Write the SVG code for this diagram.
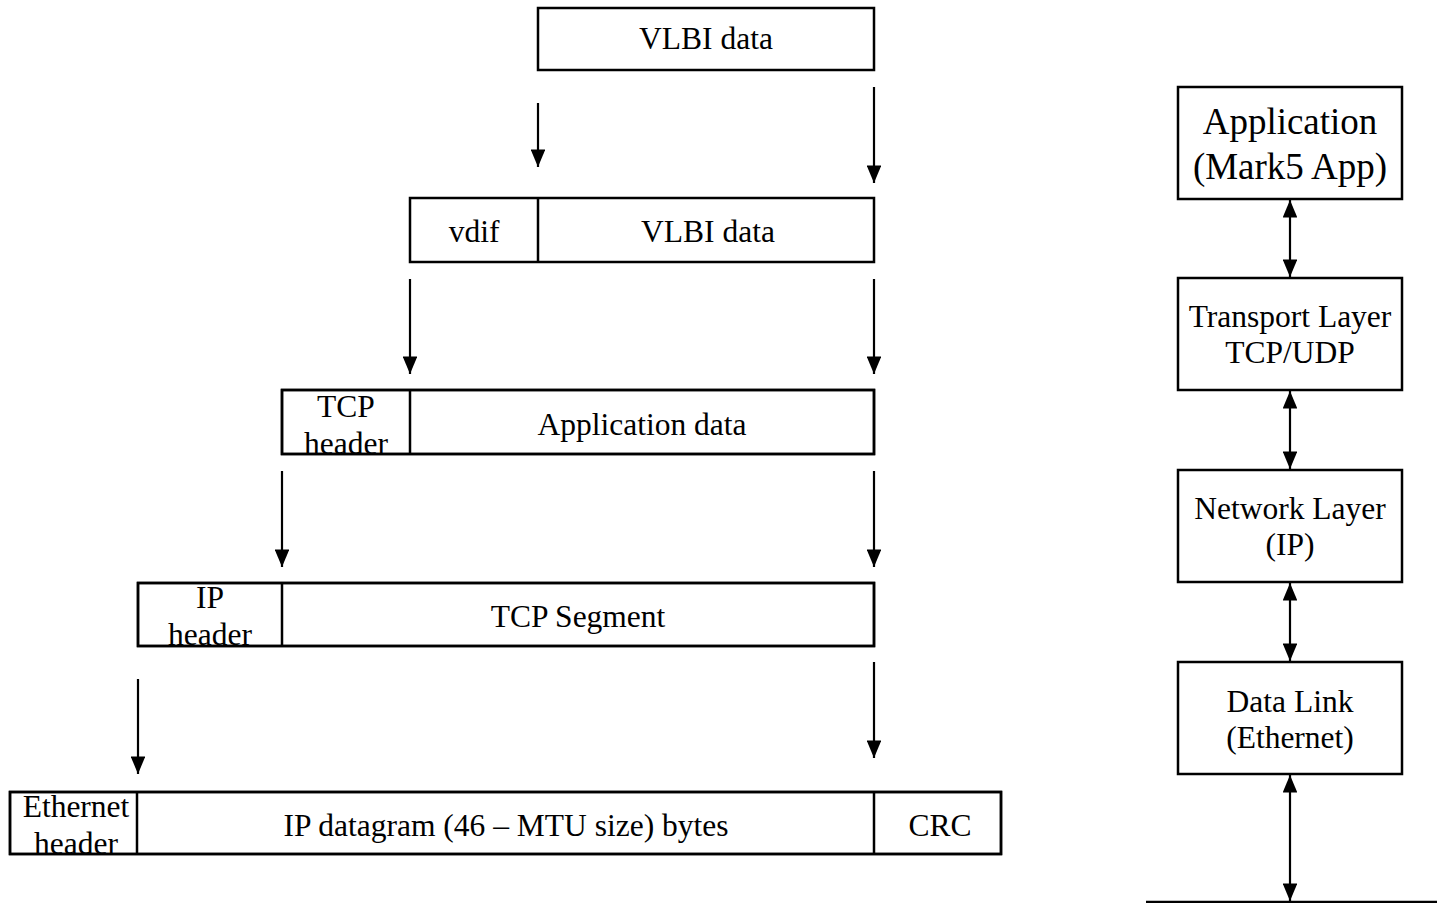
<svg xmlns="http://www.w3.org/2000/svg" width="1437" height="903" viewBox="0 0 1437 903">
  <style>
    .box { fill: #fff; stroke: #000; stroke-width: 2.5; }
    .edge { fill: none; stroke: #000; stroke-width: 2.5; }
    .div { stroke: #000; stroke-width: 2.5; }
    .t { font-family: "Liberation Serif", "Times New Roman", serif; font-size: 31.5px; fill: #000; text-anchor: middle; }
    .big { font-size: 37px; }
    .arr { stroke: #000; stroke-width: 2.2; fill: none; marker-end: url(#head); }
    .bi { stroke: #000; stroke-width: 2.2; fill: none; marker-start: url(#headS); marker-end: url(#head); }
  </style>
  <defs>
    <marker id="head" viewBox="0 0 12 10" refX="12" refY="5" markerWidth="8" markerHeight="6.8" markerUnits="strokeWidth" orient="auto">
      <path d="M0,0 L12,5 L0,10 z" fill="#000"/>
    </marker>
    <marker id="headS" viewBox="0 0 12 10" refX="0" refY="5" markerWidth="8" markerHeight="6.8" markerUnits="strokeWidth" orient="auto">
      <path d="M12,0 L0,5 L12,10 z" fill="#000"/>
    </marker>
    <clipPath id="clipTcp"><rect x="282" y="390" width="128" height="64"/></clipPath>
    <clipPath id="clipIp"><rect x="138" y="583" width="144" height="63"/></clipPath>
    <clipPath id="clipEth"><rect x="10" y="792" width="127" height="62"/></clipPath>
  </defs>

  <!-- encapsulation stack -->
  <g id="vlbi">
    <rect class="box" x="538" y="8" width="336" height="62"/>
    <text class="t" x="706" y="49">VLBI data</text>
  </g>

  <g id="vdif-frame">
    <rect class="box" x="410" y="198" width="464" height="64"/>
    <line class="div" x1="538" y1="198" x2="538" y2="262"/>
    <text class="t" x="474" y="242">vdif</text>
    <text class="t" x="708" y="242">VLBI data</text>
  </g>

  <g id="tcp-segment">
    <rect class="box" x="282" y="390" width="592" height="64"/>
    <g clip-path="url(#clipTcp)">
      <text class="t" x="346" y="417">TCP</text>
      <text class="t" x="346" y="454">header</text>
    </g>
    <rect class="edge" x="282" y="390" width="592" height="64"/>
    <line class="div" x1="410" y1="390" x2="410" y2="454"/>
    <text class="t" x="642" y="435">Application data</text>
  </g>

  <g id="ip-datagram">
    <rect class="box" x="138" y="583" width="736" height="63"/>
    <g clip-path="url(#clipIp)">
      <text class="t" x="210" y="608">IP</text>
      <text class="t" x="210" y="645">header</text>
    </g>
    <rect class="edge" x="138" y="583" width="736" height="63"/>
    <line class="div" x1="282" y1="583" x2="282" y2="646"/>
    <text class="t" x="578" y="627">TCP Segment</text>
  </g>

  <g id="ethernet-frame">
    <rect class="box" x="10" y="792" width="991" height="62"/>
    <g clip-path="url(#clipEth)">
      <text class="t" x="76" y="817">Ethernet</text>
      <text class="t" x="76" y="854">header</text>
    </g>
    <rect class="edge" x="10" y="792" width="991" height="62"/>
    <line class="div" x1="137" y1="792" x2="137" y2="854"/>
    <line class="div" x1="874" y1="792" x2="874" y2="854"/>
    <text class="t" x="506" y="836">IP datagram (46 – MTU size) bytes</text>
    <text class="t" x="940" y="836">CRC</text>
  </g>

  <!-- protocol layers -->
  <g id="application">
    <rect class="box" x="1178" y="87" width="224" height="112"/>
    <text class="t big" x="1290" y="134">Application</text>
    <text class="t big" x="1290" y="179">(Mark5 App)</text>
  </g>
  <g id="transport">
    <rect class="box" x="1178" y="278" width="224" height="112"/>
    <text class="t" x="1290" y="327">Transport Layer</text>
    <text class="t" x="1290" y="363">TCP/UDP</text>
  </g>
  <g id="network">
    <rect class="box" x="1178" y="470" width="224" height="112"/>
    <text class="t" x="1290" y="519">Network Layer</text>
    <text class="t" x="1290" y="555">(IP)</text>
  </g>
  <g id="datalink">
    <rect class="box" x="1178" y="662" width="224" height="112"/>
    <text class="t" x="1290" y="712">Data Link</text>
    <text class="t" x="1290" y="748">(Ethernet)</text>
  </g>
  <line id="medium" x1="1146" y1="902" x2="1437" y2="902" stroke="#000" stroke-width="2.5"/>

  <!-- connectors -->
  <g id="connectors">
    <line class="arr" x1="538" y1="103" x2="538" y2="167"/>
    <line class="arr" x1="874" y1="87" x2="874" y2="183"/>
    <line class="arr" x1="410" y1="279" x2="410" y2="374"/>
    <line class="arr" x1="874" y1="279" x2="874" y2="374"/>
    <line class="arr" x1="282" y1="471" x2="282" y2="567"/>
    <line class="arr" x1="874" y1="471" x2="874" y2="567"/>
    <line class="arr" x1="138" y1="679" x2="138" y2="774"/>
    <line class="arr" x1="874" y1="662" x2="874" y2="758"/>

    <line class="bi" x1="1290" y1="200" x2="1290" y2="277"/>
    <line class="bi" x1="1290" y1="391" x2="1290" y2="469"/>
    <line class="bi" x1="1290" y1="583" x2="1290" y2="661"/>
    <line class="bi" x1="1290" y1="775" x2="1290" y2="901"/>
  </g>
</svg>
